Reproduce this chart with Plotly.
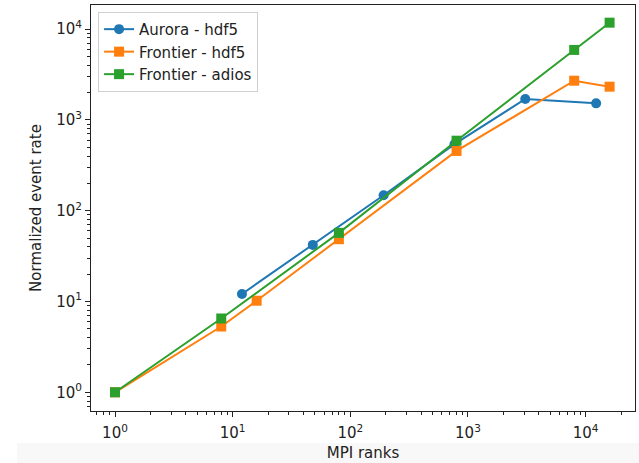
import plotly.graph_objects as go

# Data
aurora_ranks = [12, 48, 192, 768, 3072, 12288]
aurora_rate = [12.1, 42, 148, 540, 1700, 1520]

frontier_hdf5_ranks = [1, 8, 16, 80, 800, 8000, 16000]
frontier_hdf5_rate = [1.0, 5.3, 10.2, 48.5, 455, 2700, 2320]

frontier_adios_ranks = [1, 8, 80, 800, 8000, 16000]
frontier_adios_rate = [1.0, 6.5, 57, 590, 5890, 11760]

series_names = ["Aurora - hdf5", "Frontier - hdf5", "Frontier - adios"]
colors = ["#1f77b4", "#ff7f0e", "#2ca02c"]
symbols = ["circle", "square", "square"]

tick_vals = [1, 10, 100, 1000, 10000]
tick_text = ["10<sup>0</sup>", "10<sup>1</sup>", "10<sup>2</sup>", "10<sup>3</sup>", "10<sup>4</sup>"]

minor_vals = [m * 10 ** d for d in range(-1, 5) for m in range(2, 10)]

fig = go.Figure()
for name, xs, ys, c, s in zip(
    series_names,
    [aurora_ranks, frontier_hdf5_ranks, frontier_adios_ranks],
    [aurora_rate, frontier_hdf5_rate, frontier_adios_rate],
    colors,
    symbols,
):
    fig.add_trace(
        go.Scatter(
            x=xs,
            y=ys,
            mode="lines+markers",
            name=name,
            line=dict(color=c, width=2),
            marker=dict(color=c, symbol=s, size=10, line=dict(width=0)),
        )
    )

axis_common = dict(
    type="log",
    showgrid=False,
    zeroline=False,
    showline=True,
    linecolor="#222",
    linewidth=1,
    mirror=True,
    ticks="outside",
    ticklen=5,
    tickwidth=1,
    tickcolor="#222",
    tickmode="array",
    tickvals=tick_vals,
    ticktext=tick_text,
    tickfont=dict(size=15, color="#222"),
    minor=dict(ticks="outside", ticklen=3, tickwidth=1, tickcolor="#222",
               tickmode="array", tickvals=minor_vals, showgrid=False),
)

fig.update_layout(
    width=639,
    height=463,
    margin=dict(l=91, r=4, t=5, b=52),
    paper_bgcolor="white",
    plot_bgcolor="white",
    font=dict(family="DejaVu Sans", size=15, color="#222"),
    xaxis=dict(axis_common, range=[-0.204, 4.42], ticklabelstandoff=3,
               title=dict(text="MPI ranks", standoff=6, font=dict(size=15))),
    yaxis=dict(axis_common, range=[-0.206, 4.265],
               title=dict(text="Normalized event rate", standoff=10, font=dict(size=15))),
    legend=dict(
        x=0.013, y=0.983, xanchor="left", yanchor="top",
        bgcolor="rgba(255,255,255,0.8)", bordercolor="#d0d0d0", borderwidth=1,
        font=dict(size=15, color="#222"),
        itemwidth=30,
        tracegroupgap=0,
    ),
    showlegend=True,
    shapes=[
        dict(type="rect", xref="paper", yref="paper", x0=(17 - 91) / 544, x1=1 + 4 / 544,
             y0=-52 / 406, y1=-32 / 406, fillcolor="#f8f8f8", line=dict(width=0), layer="below"),
    ],
)

fig.write_html("out.html")
